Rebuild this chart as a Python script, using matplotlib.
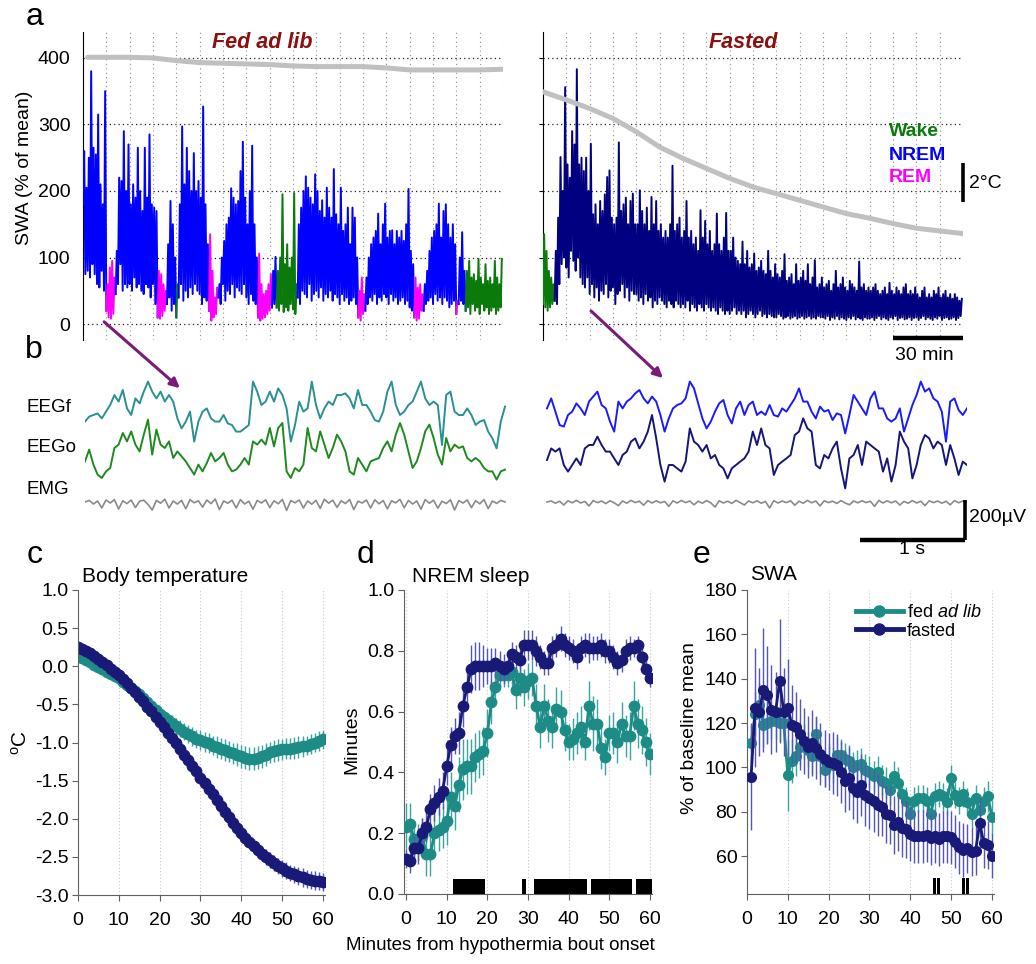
import numpy as np
import matplotlib
matplotlib.use('Agg')
import matplotlib.pyplot as plt
from matplotlib.lines import Line2D

plt.rcParams['font.family'] = ['Liberation Sans', 'DejaVu Sans']
plt.rcParams['mathtext.fontset'] = 'custom'
plt.rcParams['mathtext.rm'] = 'Liberation Sans'
plt.rcParams['mathtext.it'] = 'Liberation Sans:italic'

W, H = 1036, 964

# ---------------- panel a: SWA per minute (upper / lower excursion), % of mean
fed_swa_hi = [260, 205, 250, 380, 265, 255, 315, 210, 180, 350,
              60, 85, 95, 70,
              110, 220, 215, 290, 200, 270, 180, 210, 190, 265, 200, 170, 265, 190, 285, 180, 175, 170,
              80, 75, 60, 50,
              120, 185, 150, 100,
              60,
              180, 297, 210, 265, 230, 200, 257, 200, 215, 190, 327, 180, 120,
              135, 80, 40, 55,
              60, 100, 125, 150, 160, 204, 190, 180, 185, 230, 274, 190, 150, 200, 268, 150, 100,
              106, 60, 45, 50, 60, 75,
              80, 101,
              80, 100, 195, 90, 120, 85, 100, 197, 60,
              150, 175, 200, 222, 205, 190, 180, 225, 200, 170, 186, 160, 205, 175, 160, 233, 165, 150,
              205, 140, 150, 175, 120, 175, 160, 100,
              50, 70, 45,
              70, 100, 120, 130, 140, 166, 120, 150, 181, 130, 140, 141, 120, 140, 130, 140, 125, 150, 203, 110, 90,
              70, 55, 60, 45,
              60, 80, 110, 130, 140, 150, 181, 130, 170, 180, 150, 130, 150, 120,
              35,
              100, 138, 80,
              80, 95, 70, 75, 65, 98, 70, 60, 90, 65, 70, 60, 95, 70, 60, 98]
fed_swa_lo = [180, 75, 80, 70, 90, 75, 60, 55, 80, 50,
              20, 10, 8, 15,
              45, 60, 90, 50, 60, 55, 60, 50, 70, 55, 60, 50, 45, 60, 55, 40, 60, 30,
              10, 8, 12, 20,
              30, 40, 20, 30,
              10,
              40, 60, 35, 50, 40, 55, 45, 60, 50, 45, 30, 40, 35,
              20, 5, 10, 15,
              40, 30, 60, 35, 50, 45, 60, 40, 55, 50, 45, 60, 40, 30, 45, 35, 30,
              10, 5, 8, 10, 15, 20,
              25, 30,
              25, 20, 30, 18, 25, 20, 30, 22, 15,
              40, 30, 50, 45, 40, 60, 35, 45, 50, 40, 55, 35, 45, 40, 50, 35, 45, 40,
              30, 45, 35, 40, 30, 35, 40, 30,
              10, 5, 15,
              20, 30, 40, 35, 45, 30, 40, 35, 45, 40, 30, 45, 35, 40, 30, 35, 40, 30, 35, 25, 20,
              10, 5, 8, 20,
              20, 30, 35, 40, 30, 45, 35, 40, 30, 40, 35, 25, 30, 35,
              15,
              30, 35, 30,
              20, 25, 15, 30, 20, 25, 15, 30, 20, 25, 15, 20, 25, 15, 20, 25]
fed_states = [('Wake' if s == 'W' else 'NREM' if s == 'N' else 'REM', a, b) for s, a, b in [
    ('N', 0, 10), ('R', 10, 14), ('N', 14, 32), ('R', 32, 36), ('N', 36, 40), ('W', 40, 41),
    ('N', 41, 54), ('R', 54, 58), ('N', 58, 75), ('R', 75, 81), ('N', 81, 83), ('W', 83, 92),
    ('N', 92, 118), ('R', 118, 121), ('N', 121, 142), ('R', 142, 146), ('N', 146, 160),
    ('R', 160, 161), ('N', 161, 164), ('W', 164, 180)]]

fast_swa_hi = [135, 110, 80, 70, 60,
               110, 160, 251, 200, 356, 240, 220, 290, 270, 383, 240, 250, 230, 250, 200,
               271, 165, 180, 150, 185, 170, 195, 221, 231, 160, 150, 160, 273, 170, 180, 190, 150, 185, 196, 150,
               150, 201, 170, 150, 175, 140, 191, 150, 185, 140, 150, 130, 140, 130, 150, 238, 140, 150, 160, 130,
               140, 185, 130, 140, 120, 130, 110, 171, 130, 155, 120, 140, 110, 120, 166, 120, 110, 130, 167, 110,
               110, 130, 100, 95, 90, 124, 90, 110, 85, 90, 106, 80, 85, 95, 80, 75, 110, 80, 70, 90,
               75, 70, 80, 105, 65, 70, 75, 60, 90, 65, 70, 80, 65, 90, 60, 70, 96, 55, 60, 70,
               55, 60, 65, 50, 60, 80, 55, 60, 70, 55, 50, 65, 60, 55, 50, 94, 55, 60, 50, 55,
               50, 55, 60, 50, 45, 50, 55, 45, 62, 50, 45, 55, 50, 45, 55, 60, 45, 50, 45, 55,
               45, 40, 50, 55, 40, 45, 40, 50, 45, 55, 40, 45, 50, 40, 45, 38, 45, 40, 35, 38]
fast_swa_lo = [30, 25, 20, 25, 30,
               35, 30, 60, 90, 100, 85, 70, 110, 95, 80, 100, 70, 60, 55, 70,
               45, 60, 40, 55, 35, 50, 45, 60, 40, 50, 55, 30, 45, 50, 60, 40, 55, 35, 50, 45,
               45, 35, 40, 30, 45, 35, 40, 25, 35, 30, 40, 35, 30, 25, 35, 30, 25, 35, 30, 25,
               30, 25, 35, 20, 30, 25, 20, 30, 25, 20, 30, 25, 20, 25, 20, 15, 25, 20, 15, 20,
               15, 20, 25, 15, 20, 15, 20, 10, 15, 20, 15, 10, 15, 20, 12, 15, 10, 15, 12, 10,
               10, 15, 12, 8, 10, 12, 8, 10, 12, 8, 10, 12, 8, 10, 12, 8, 10, 8, 12, 10,
               10, 8, 12, 6, 10, 8, 12, 7, 10, 8, 6, 10, 8, 12, 7, 10, 8, 6, 10, 8,
               8, 10, 6, 9, 12, 7, 10, 8, 6, 10, 8, 12, 6, 9, 10, 7, 8, 10, 6, 9,
               10, 6, 9, 12, 7, 10, 8, 6, 10, 8, 12, 6, 9, 10, 7, 8, 10, 6, 9, 12]
fast_states = [('Wake', 0, 5), ('NREM', 5, 180)]

# body temperature (drawn on the SWA scale), every 10 min
temp_minutes = [2, 10, 20, 30, 40, 50, 60, 70, 80, 90, 100, 110, 120, 130, 140, 150, 160, 170, 180]
temp_fast_minutes = [0, 10, 20, 30, 40, 50, 60, 70, 80, 90, 100, 110, 120, 130, 140, 150, 160, 170, 180]
temp_fed = [401, 401, 401, 400, 396, 393, 392, 391, 390, 388, 387, 387, 387, 385, 382, 382, 382, 382, 383]
temp_fast = [349, 337, 324, 309, 289, 266, 249, 234, 219, 206, 196, 186, 176, 166, 159, 151, 144, 140, 136]

# ---------------- panel b: raw traces (uV), 4 s each
eegf_fed = [-33, -8, 0, 8, -17, 17, 50, 100, 67, 125, 33, 0, 83, 58, 117, 167, 117, 83, 117, 67,
            100, 67, -17, -67, -33, 17, -133, -33, 17, 33, -17, -33, -33, 0, -42, -50, -83, -83, -67, -50,
            167, 117, 50, 67, 117, 67, 133, 100, 33, -133, -50, 67, 17, 33, 167, 50, -17, 33, 67, 50,
            100, 100, 108, 83, 33, 125, 50, 50, 17, -25, -33, 17, 117, 167, 50, 0, 17, 50, 67, 117,
            167, 83, 50, 67, 50, -150, 100, 117, 17, 0, 0, 33, 0, -50, -33, -25, -83, -117, -167, -33, 42]
eego_fed = [-17, 42, -33, -83, -100, -67, -50, 50, 67, 125, 83, 133, 67, 33, 117, 192, 17, 142, 67, 50,
            83, 0, 33, 8, -17, -50, -83, -33, -67, -25, 25, -17, 0, 25, -33, -67, -58, -33, 0, -33,
            83, 67, 92, 67, 150, 58, 150, 175, -67, -100, -50, -67, -33, 150, 50, 33, 133, 67, 0, 50,
            117, 83, 33, -67, -83, 0, -33, -67, -17, -8, 0, 50, 83, 33, 117, 175, 117, 33, -50, -17,
            50, 133, 167, 100, 17, -33, 100, 33, 67, 50, 58, 0, -17, 0, -17, -50, -67, -67, -108, -67, -58]
emg_fed = [0, 8, -10, 5, -30, 10, -5, 12, -35, 6, -8, 10, -28, 4, 9, -12, -40, 8, -6, 14,
           -30, 5, -10, 8, -34, 12, -4, 6, -26, 10, -8, 15, -38, 5, -6, 9, -30, 12, -10, 4,
           -36, 8, -5, 11, -28, 6, -9, 13, -42, 7, -4, 10, -30, 5, -11, 8, -32, 14, -6, 9,
           -27, 6, -8, 12, -38, 4, -5, 10, -30, 11, -9, 7, -34, 6, -4, 13, -29, 8, -10, 5,
           -36, 12, -6, 9, -31, 4, -8, 11, -40, 7, -5, 10, -28, 6, -9, 12, -33, 5, -7, 8, 0]
eegf_fast = [8, 58, -8, -75, -83, -25, -8, 33, 8, -25, 42, 67, 92, 25, 8, -58, -108, 42, 8, 42,
             58, 83, 100, 58, 33, 67, 42, -25, -108, -42, 8, 25, 33, 58, 142, 108, 33, -42, -92, -58,
             -8, 33, 50, -25, -67, 8, 42, -25, 25, 42, -25, -8, -25, 25, -25, -33, 8, -8, 25, 58,
             108, 42, 42, -8, -42, 17, -8, 0, -50, -17, -25, -117, -25, 75, 42, 8, -25, 58, 92, 8,
             8, -42, -58, -42, 8, -108, -42, 25, 75, 142, 92, 108, 58, 42, -8, -158, 42, 58, 0, -25, 8]
eego_fast = [-25, 33, 17, 33, -50, -83, -50, -17, -50, 33, 50, 50, 92, 50, 17, 17, -17, -50, 0, 17,
             67, 83, 33, 67, 117, 200, 83, -50, -133, -50, -50, -67, -83, -33, 133, 67, 50, 17, 50, -17,
             0, -50, -67, -117, -67, -50, -33, -17, 17, 117, 50, 133, 50, 33, -100, -50, -33, -17, 0, 100,
             117, 183, 133, 117, -50, -67, 0, -17, 33, 67, -67, -167, -17, 0, 50, -50, 67, 50, 33, 17,
             -83, -17, -133, -50, 117, 67, 33, -117, -50, 50, 100, 83, 33, 67, 50, -50, 50, -17, -100, -33, -50]
emg_fast = [0, 5, -6, 4, -15, 6, -4, 8, -5, 3, -20, 7, -3, 5, -8, 6, -4, -18, 5, -6,
            8, -3, 4, -16, 7, -5, 6, -4, 3, -22, 6, -5, 8, -3, 5, -14, 4, -6, 7, -4,
            -25, 6, -5, 4, -7, 8, -3, -15, 5, -4, 6, -6, 3, -30, 7, -5, 5, -3, 6, -16,
            4, -6, 8, -4, 5, -20, 6, -3, 4, -7, 7, -5, -14, 5, -4, 6, -3, 4, -22, 8,
            -5, 6, -4, 5, -15, 3, -6, 7, -5, 4, -18, 6, -3, 5, -6, 4, -14, 7, -4, 5, 0]

# ---------------- panel c: body temperature (deg C), minutes 0..60
c_fed = [0.13, 0.11, 0.08, 0.05, 0.02, -0.01, -0.04, -0.07, -0.10, -0.13,
         -0.16, -0.20, -0.24, -0.28, -0.32, -0.37, -0.42, -0.47, -0.52, -0.57,
         -0.62, -0.66, -0.70, -0.74, -0.78, -0.82, -0.86, -0.89, -0.92, -0.95,
         -0.97, -0.99, -1.01, -1.04, -1.06, -1.08, -1.10, -1.12, -1.14, -1.16,
         -1.18, -1.20, -1.21, -1.21, -1.20, -1.18, -1.16, -1.13, -1.11, -1.10,
         -1.09, -1.08, -1.08, -1.07, -1.06, -1.05, -1.04, -1.02, -1.00, -0.98, -0.96]
c_fed_err = [0.02, 0.02, 0.02, 0.02, 0.02, 0.02, 0.02, 0.02, 0.02, 0.02,
             0.03, 0.03, 0.04, 0.04, 0.05, 0.05, 0.06, 0.06, 0.07, 0.07,
             0.08, 0.09, 0.09, 0.10, 0.10, 0.11, 0.11, 0.12, 0.12, 0.12,
             0.13, 0.13, 0.13, 0.13, 0.14, 0.14, 0.14, 0.14, 0.14, 0.15,
             0.15, 0.15, 0.15, 0.15, 0.15, 0.15, 0.15, 0.14, 0.14, 0.14,
             0.14, 0.14, 0.14, 0.14, 0.14, 0.14, 0.13, 0.13, 0.13, 0.13, 0.13]
c_fast = [0.25, 0.23, 0.20, 0.17, 0.13, 0.09, 0.05, 0.01, -0.03, -0.07,
          -0.12, -0.17, -0.22, -0.28, -0.34, -0.40, -0.46, -0.53, -0.59, -0.66,
          -0.73, -0.80, -0.87, -0.94, -1.01, -1.08, -1.16, -1.23, -1.31, -1.38,
          -1.46, -1.53, -1.61, -1.68, -1.76, -1.83, -1.91, -1.98, -2.05, -2.12,
          -2.19, -2.25, -2.31, -2.36, -2.41, -2.46, -2.50, -2.54, -2.58, -2.62,
          -2.65, -2.68, -2.71, -2.73, -2.75, -2.77, -2.79, -2.80, -2.81, -2.82, -2.83]
c_fast_err = [0.02, 0.02, 0.02, 0.02, 0.02, 0.02, 0.02, 0.02, 0.02, 0.02,
              0.02, 0.02, 0.02, 0.02, 0.02, 0.02, 0.02, 0.02, 0.02, 0.02,
              0.02, 0.02, 0.02, 0.02, 0.02, 0.02, 0.02, 0.02, 0.02, 0.03,
              0.03, 0.03, 0.04, 0.04, 0.05, 0.05, 0.06, 0.06, 0.07, 0.07,
              0.08, 0.08, 0.08, 0.09, 0.09, 0.09, 0.10, 0.10, 0.10, 0.10,
              0.11, 0.11, 0.11, 0.11, 0.12, 0.12, 0.12, 0.12, 0.12, 0.12, 0.12]

# ---------------- panel d: NREM sleep (min per 1-min bin)
d_fed = [0.22, 0.23, 0.18, 0.17, 0.19, 0.13, 0.13, 0.20, 0.21, 0.22,
         0.24, 0.32, 0.29, 0.36, 0.41, 0.42, 0.42, 0.45, 0.46, 0.47,
         0.53, 0.63, 0.68, 0.72, 0.72, 0.72, 0.73, 0.67, 0.71, 0.68,
         0.70, 0.71, 0.62, 0.55, 0.62, 0.57, 0.55, 0.61, 0.60, 0.54,
         0.50, 0.51, 0.53, 0.55, 0.50, 0.62, 0.56, 0.56, 0.48, 0.45,
         0.53, 0.53, 0.50, 0.56, 0.52, 0.52, 0.62, 0.56, 0.54, 0.50, 0.46]
d_fed_err = [0.08, 0.07, 0.06, 0.06, 0.06, 0.07, 0.07, 0.07, 0.07, 0.07,
             0.08, 0.08, 0.08, 0.09, 0.10, 0.09, 0.09, 0.08, 0.08, 0.08,
             0.08, 0.07, 0.05, 0.04, 0.04, 0.04, 0.05, 0.06, 0.06, 0.06,
             0.06, 0.06, 0.07, 0.07, 0.07, 0.07, 0.07, 0.07, 0.07, 0.07,
             0.06, 0.07, 0.07, 0.07, 0.06, 0.08, 0.09, 0.08, 0.07, 0.06,
             0.06, 0.07, 0.07, 0.07, 0.07, 0.08, 0.08, 0.08, 0.08, 0.08, 0.07]
d_fast = [0.116, 0.108, 0.15, 0.15, 0.20, 0.22, 0.28, 0.30, 0.32, 0.34,
          0.42, 0.49, 0.52, 0.53, 0.62, 0.68, 0.74, 0.75, 0.75, 0.75,
          0.75, 0.75, 0.76, 0.75, 0.74, 0.75, 0.79, 0.78, 0.77, 0.82,
          0.82, 0.82, 0.80, 0.78, 0.76, 0.76, 0.81, 0.82, 0.84, 0.82,
          0.81, 0.80, 0.78, 0.81, 0.82, 0.81, 0.81, 0.81, 0.82, 0.80,
          0.80, 0.78, 0.76, 0.77, 0.80, 0.81, 0.81, 0.82, 0.78, 0.74, 0.71]
d_fast_err = [0.03, 0.04, 0.04, 0.05, 0.05, 0.05, 0.05, 0.06, 0.06, 0.06,
              0.06, 0.06, 0.06, 0.07, 0.07, 0.07, 0.08, 0.08, 0.08, 0.07,
              0.06, 0.06, 0.05, 0.05, 0.05, 0.04, 0.04, 0.04, 0.04, 0.05,
              0.05, 0.05, 0.05, 0.04, 0.04, 0.04, 0.04, 0.04, 0.04, 0.04,
              0.04, 0.04, 0.04, 0.04, 0.04, 0.05, 0.04, 0.04, 0.04, 0.04,
              0.04, 0.04, 0.04, 0.04, 0.04, 0.04, 0.03, 0.03, 0.03, 0.03, 0.03]
d_signif = [12, 13, 14, 15, 16, 17, 18, 19, 29, 32, 33, 34, 35, 36, 37, 38, 39, 40, 41, 42, 43, 44,
            46, 47, 48, 49, 50, 51, 52, 53, 54, 55, 57, 58, 59, 60]

# ---------------- panel e: SWA (% of baseline mean), minutes 1..60
e_fed = [111, 124, 128, 119, 120, 121, 121, 120, 120, 96.5,
         103, 105, 109, 111.6, 108, 105, 115, 105, 99, 102.6,
         101, 105.6, 105.6, 104, 103, 100, 101, 101.6, 99, 98,
         96, 98, 94, 93, 90, 96, 93, 88, 85, 79,
         85, 86, 86, 85, 79, 87, 88, 87, 84.5, 95,
         87.5, 85, 88, 84.5, 79, 86, 81, 85, 87, 77.5]
e_fed_err = [8, 10, 10, 10, 9, 8, 8, 8, 8, 16,
             10, 9, 8, 8, 8, 8, 8, 8, 8, 8,
             8, 8, 7, 7, 7, 7, 7, 7, 7, 7,
             7, 7, 7, 7, 7, 7, 7, 6, 6, 6,
             6, 6, 6, 6, 6, 6, 6, 6, 6, 6,
             6, 6, 6, 6, 6, 6, 6, 6, 7, 8]
e_fast = [95.8, 127, 125, 135, 132.6, 126, 125, 139, 125, 127,
          119, 118, 115, 112, 109, 111, 108.6, 106, 104, 102.6,
          102, 101, 98, 94, 95, 90.5, 89, 92, 87.5, 86,
          85, 83, 82, 79, 78.5, 74, 75.5, 72.5, 72, 70,
          69, 69, 69, 69.5, 68, 69, 67.5, 69, 69, 68.5,
          66.5, 64, 62.7, 63.5, 62, 62.4, 75, 65.7, 65, 60]
e_fast_err = [24, 27, 20, 28, 22, 20, 18, 28, 20, 22,
              18, 16, 16, 15, 14, 15, 14, 14, 13, 13,
              14, 14, 14, 14, 14, 14, 14, 14, 14, 14,
              14, 14, 13, 13, 13, 13, 13, 13, 13, 12,
              12, 12, 12, 12, 12, 12, 12, 12, 12, 12,
              12, 12, 12, 11, 11, 11, 11, 11, 11, 10]
e_signif = [46, 47, 53, 54]

# ---------------- styles
state_col = {'Wake': '#0a7a0a', 'NREM': '#0000ff', 'REM': '#ff00ff'}
state_col_fast = {'Wake': '#0a7a0a', 'NREM': '#000080', 'REM': '#ff00ff'}
teal, navy = '#1e8c86', '#191978'
teal_e, navy_e = '#3aa59e', '#5555b5'
dark_red = '#8b1010'
gray_ax = '#606060'


def box(l, t, w, h):
    return [l / W, 1 - (t + h) / H, w / W, h / H]


def draw_swa(ax, hi, lo, states, cols):
    m = np.arange(len(hi))
    x = np.column_stack([m, m + 0.5]).ravel()
    y = np.column_stack([lo, hi]).ravel()
    for st, a, b in states:
        ax.plot(x[2 * a:2 * b + 1], y[2 * a:2 * b + 1], color=cols[st], lw=1.4, zorder=3)


fig = plt.figure(figsize=(W / 100, H / 100), dpi=100)

# ---------------- panel a
ax_al = fig.add_axes(box(83, 32, 420, 308))
ax_ar = fig.add_axes(box(543, 32, 420, 308))
for ax in (ax_al, ax_ar):
    ax.set_xlim(0, 180)
    ax.set_ylim(-24, 439)
    ax.set_xticks(range(0, 181, 10))
    ax.set_yticks([0, 100, 200, 300, 400])
    ax.set_axisbelow(True)
    ax.grid(axis='x', ls=(0, (1, 3)), color='#909090', lw=0.8)
    ax.grid(axis='y', ls=(0, (1, 2.5)), color='#202020', lw=0.9)
    for s in ('top', 'right', 'bottom'):
        ax.spines[s].set_visible(False)
    ax.spines['left'].set_color('black')
    ax.tick_params(axis='x', length=0, labelbottom=False)
    ax.tick_params(axis='y', length=3, labelsize=14, pad=3)
ax_ar.tick_params(axis='y', labelleft=False)
ax_al.tick_params(axis='y', length=0, pad=9)

draw_swa(ax_al, fed_swa_hi, fed_swa_lo, fed_states, state_col)
draw_swa(ax_ar, fast_swa_hi, fast_swa_lo, fast_states, state_col_fast)
ax_al.plot(temp_minutes, temp_fed, color='#c0c0c0', lw=3.6, solid_capstyle='round', zorder=4)
ax_ar.plot(temp_fast_minutes, temp_fast, color='#c0c0c0', lw=3.6, solid_capstyle='round', zorder=4)
# scale bars: 30 min and 2 degC
ax_ar.plot([150, 180], [-21, -21], color='black', lw=3.2, clip_on=False, solid_capstyle='butt')
ax_ar.plot([180, 180], [183, 242], color='black', lw=2.6, clip_on=False, solid_capstyle='butt')

# ---------------- panel b
ax_b = fig.add_axes(box(85, 365, 882, 180))
ax_b.set_xlim(0, 8.4)
ax_b.set_ylim(-660, 240)
ax_b.axis('off')
traces = [(eegf_fed, 0.0, -10, '#2a9090', 1.4), (eego_fed, 0.0, -225, '#1f8a1f', 1.4),
          (emg_fed, 0.0, -445, '#8a8a8a', 1.2), (eegf_fast, 4.4, 15, '#1a1aff', 1.4),
          (eego_fast, 4.4, -210, '#15157a', 1.4), (emg_fast, 4.4, -445, '#8a8a8a', 1.2)]
for vals, x0, off, col, lw in traces:
    t = x0 + np.linspace(0, 4, len(vals))
    ax_b.plot(t, np.array(vals) + off, color=col, lw=lw)
ax_b.plot([8.38, 8.38], [-435, -635], color='black', lw=2.6, solid_capstyle='butt')
ax_b.plot([7.38, 8.38], [-635, -635], color='black', lw=3.2, solid_capstyle='butt')

# ---------------- panels c, d, e
minutes = np.arange(61)
e_minutes = np.arange(1, 61)
ax_c = fig.add_axes(box(78, 590, 247, 305))
ax_d = fig.add_axes(box(404, 590, 248, 304))
ax_e = fig.add_axes(box(747, 590, 247, 304))


def style_small(ax):
    for s in ('top', 'right'):
        ax.spines[s].set_visible(False)
    for s in ('left', 'bottom'):
        ax.spines[s].set_color(gray_ax)
    ax.tick_params(colors=gray_ax, labelcolor='black', labelsize=14, length=4)
    ax.tick_params(axis='x', pad=8)
    ax.tick_params(axis='y', pad=3)
    ax.set_xticks(range(0, 61, 10))
    ax.set_axisbelow(True)
    ax.grid(axis='x', ls=(0, (1, 2)), color='#c8c8c8', lw=0.8)


for ax in (ax_c, ax_d, ax_e):
    style_small(ax)

ax_c.errorbar(minutes, c_fed, yerr=c_fed_err, fmt='-o', color=teal, ms=7.5, lw=2,
              ecolor=teal_e, elinewidth=1, capsize=0)
ax_c.errorbar(minutes, c_fast, yerr=c_fast_err, fmt='-o', color=navy, ms=7.5, lw=2,
              ecolor=navy_e, elinewidth=1, capsize=0)
ax_c.set_xlim(0, 60.5)
ax_c.set_ylim(-3, 1)
ax_c.set_yticks(np.arange(-3, 1.01, 0.5))
ax_c.set_yticklabels(['%.1f' % v for v in np.arange(-3, 1.01, 0.5)])

ax_d.bar(d_signif, 0.05, width=1, color='black', edgecolor='none', zorder=2)
ax_d.errorbar(minutes, d_fed, yerr=d_fed_err, fmt='-o', color=teal, ms=7.5, lw=2,
              ecolor=teal_e, elinewidth=1, capsize=0, zorder=3)
ax_d.errorbar(minutes, d_fast, yerr=d_fast_err, fmt='-o', color=navy, ms=7.5, lw=2,
              ecolor=navy_e, elinewidth=1, capsize=0, zorder=4)
ax_d.set_xlim(-0.5, 60.5)
ax_d.set_ylim(0, 1)
ax_d.set_yticks(np.arange(0, 1.01, 0.2))
ax_d.set_yticklabels(['%.1f' % v for v in np.arange(0, 1.01, 0.2)])

ax_e.bar(e_signif, 7, bottom=42.9, width=0.7, color='black', edgecolor='none', zorder=2)
ax_e.errorbar(e_minutes, e_fed, yerr=e_fed_err, fmt='-o', color=teal, ms=7, lw=2,
              ecolor=teal_e, elinewidth=1, capsize=0, zorder=3)
ax_e.errorbar(e_minutes, e_fast, yerr=e_fast_err, fmt='-o', color=navy, ms=7, lw=2,
              ecolor=navy_e, elinewidth=1, capsize=0, zorder=4)
ax_e.set_xlim(0, 60.5)
ax_e.set_ylim(42.9, 180)
ax_e.set_yticks(range(60, 181, 20))
handles = [Line2D([], [], color=teal, lw=3.5, marker='o', ms=8),
           Line2D([], [], color=navy, lw=3.5, marker='o', ms=8)]
ax_e.legend(handles, ['fed $\\mathit{ad\\ lib}$', 'fasted'], loc='upper left',
            bbox_to_anchor=((856 - 747) / 247, (894 - 604) / 304), frameon=False,
            fontsize=13, handlelength=2.6, handletextpad=0.2, labelspacing=0.1, borderpad=0,
            borderaxespad=0)

# ---------------- overlay for labels, arrows, text
ov = fig.add_axes([0, 0, 1, 1], zorder=10)
ov.set_xlim(0, W)
ov.set_ylim(H, 0)
ov.axis('off')
ov.patch.set_alpha(0)

for lab, x, y in [('a', 35, 17), ('b', 34, 350), ('c', 35, 555), ('d', 365, 555), ('e', 702, 555)]:
    ov.text(x, y, lab, fontsize=23, ha='center', va='center')

ov.text(262, 42, 'Fed ad lib', fontsize=15.5, fontweight='bold', fontstyle='italic', color=dark_red,
        ha='center', va='center')
ov.text(743, 42, 'Fasted', fontsize=15.5, fontweight='bold', fontstyle='italic', color=dark_red,
        ha='center', va='center')
for lab, y in [('Wake', 132), ('NREM', 155), ('REM', 177)]:
    ov.text(889, y, lab, fontsize=14, fontweight='bold', color=state_col[lab], ha='left', va='center')
ov.text(969, 184, '2°C', fontsize=14, ha='left', va='center')
ov.text(924, 355, '30 min', fontsize=14, ha='center', va='center')
ov.text(25, 168, 'SWA (% of mean)', fontsize=14, rotation=90, ha='center', va='center')

for lab, y in [('EEGf', 408), ('EEGo', 448), ('EMG', 489)]:
    ov.text(27, y, lab, fontsize=13.5, ha='left', va='center')
ov.text(969, 517, '200µV', fontsize=14, ha='left', va='center')
ov.text(912, 549, '1 s', fontsize=14, ha='center', va='center')

for (x0, y0), (x1, y1) in [((102, 320), (182, 390)), ((589, 309), (665, 380))]:
    ov.annotate('', xy=(x1, y1), xytext=(x0, y0),
                arrowprops=dict(arrowstyle='-|>', color='#7a1a7a', lw=2.2, mutation_scale=14))

ov.text(82, 576, 'Body temperature', fontsize=15, ha='left', va='center')
ov.text(412, 576, 'NREM sleep', fontsize=15, ha='left', va='center')
ov.text(750, 575, 'SWA', fontsize=15, ha='left', va='center')
ov.text(21, 742, '$^{\\mathrm{o}}$C', fontsize=15, rotation=90, ha='center', va='center')
ov.text(352, 740, 'Minutes', fontsize=14, rotation=90, ha='center', va='center')
ov.text(689, 728, '% of baseline mean', fontsize=14, rotation=90, ha='center', va='center')
ov.text(500, 946, 'Minutes from hypothermia bout onset', fontsize=13.5, ha='center', va='center')

fig.savefig('out.png', dpi=100)
